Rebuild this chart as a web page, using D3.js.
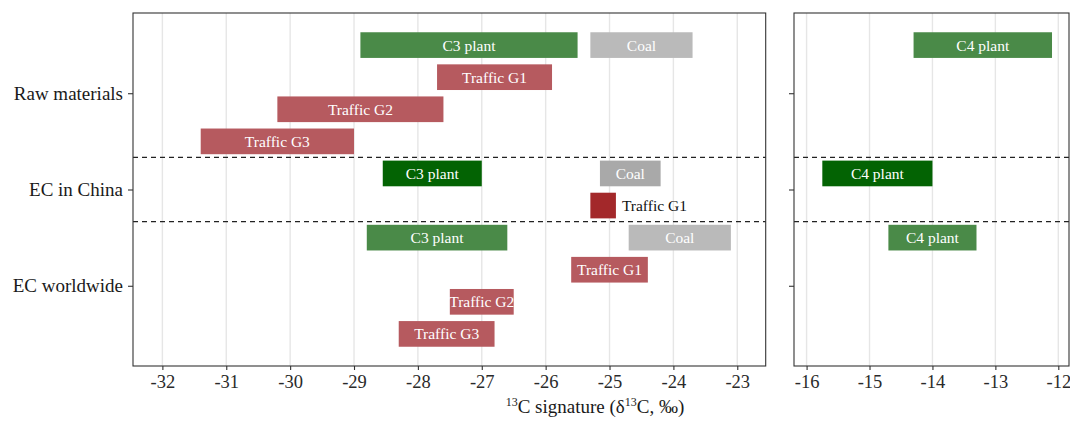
<!DOCTYPE html>
<html>
<head>
<meta charset="utf-8">
<script src="https://cdn.jsdelivr.net/npm/d3@7"></script>
<style>
  body { margin: 0; background: #fff; }
  svg text { font-family: "Liberation Serif", "DejaVu Serif", serif; }
</style>
</head>
<body>
<svg id="chart" width="1070" height="421"></svg>
<script>
// categories on the y axis and the slot (row) each one is centred on
const categories = ["Raw materials", "EC in China", "EC worldwide"];
const categorySlots = [1.5, 4.5, 7.5];
const separatorSlots = [3.5, 5.5];

// bars: label, kind (for colour), row slot, panel, low and high d13C
const barLabels = ["C3 plant", "Coal", "Traffic G1", "Traffic G2", "Traffic G3",
    "C3 plant", "Coal", "Traffic G1",
    "C3 plant", "Coal", "Traffic G1", "Traffic G2", "Traffic G3",
    "C4 plant", "C4 plant", "C4 plant"];
const barKinds = ["plant", "coal", "traffic", "traffic", "traffic",
    "plantChina", "coalChina", "trafficChina",
    "plant", "coal", "traffic", "traffic", "traffic",
    "plant", "plantChina", "plant"];
const barSlots = [0, 0, 1, 2, 3, 4, 4, 5, 6, 6, 7, 8, 9, 0, 4, 6];
const barPanels = [0, 0, 0, 0, 0, 0, 0, 0, 0, 0, 0, 0, 0, 1, 1, 1];
const barLow = [-28.9, -25.3, -27.7, -30.2, -31.4,
    -28.55, -25.15, -25.3,
    -28.8, -24.7, -25.6, -27.5, -28.3,
    -14.3, -15.75, -14.7];
const barHigh = [-25.5, -23.7, -25.9, -27.6, -29.0,
    -27.0, -24.2, -24.9,
    -26.6, -23.1, -24.4, -26.5, -26.8,
    -12.1, -14.0, -13.3];

// tick values of each panel
const leftTicks = [-32, -31, -30, -29, -28, -27, -26, -25, -24, -23];
const rightTicks = [-16, -15, -14, -13, -12];

const colors = {
    plant: "#4a8a48",
    plantChina: "#036303",
    coal: "#bababa",
    coalChina: "#a9a9a9",
    traffic: "#b65a5f",
    trafficChina: "#a3282a"
};

const bars = barLabels.map((label, i) => ({
    label: label,
    kind: barKinds[i],
    slot: barSlots[i],
    panel: barPanels[i],
    lo: barLow[i],
    hi: barHigh[i]
}));

const plotTop = 13, plotBottom = 366;
const panels = [
    {x0: 133, x1: 765.7, domain: [-32.46, -22.555], ticks: leftTicks},
    {x0: 794, x1: 1069, domain: [-16.2, -11.83], ticks: rightTicks}
];

const svg = d3.select("#chart");
const y = d3.scaleLinear().domain([-1, 10]).range([plotTop, plotBottom]);
const half = 0.4;

panels.forEach((p, pi) => {
    const x = d3.scaleLinear().domain(p.domain).range([p.x0, p.x1]);
    const g = svg.append("g");

    // vertical grid
    g.selectAll(".grid")
        .data(p.ticks)
        .enter()
        .append("line")
        .attr("x1", d => x(d))
        .attr("x2", d => x(d))
        .attr("y1", plotTop)
        .attr("y2", plotBottom)
        .attr("stroke", "#e6e6e6")
        .attr("stroke-width", 1.4);

    // separators between the groups
    g.selectAll(".sep")
        .data(separatorSlots)
        .enter()
        .append("line")
        .attr("x1", p.x0)
        .attr("x2", p.x1)
        .attr("y1", d => y(d))
        .attr("y2", d => y(d))
        .attr("stroke", "#222")
        .attr("stroke-width", 1.2)
        .attr("stroke-dasharray", "5,4");

    const pb = bars.filter(d => d.panel === pi);
    g.selectAll(".bar")
        .data(pb)
        .enter()
        .append("rect")
        .attr("x", d => x(d.lo))
        .attr("width", d => x(d.hi) - x(d.lo))
        .attr("y", d => y(d.slot - half))
        .attr("height", d => y(d.slot + half) - y(d.slot - half))
        .attr("fill", d => colors[d.kind]);

    g.selectAll(".lab")
        .data(pb)
        .enter()
        .append("text")
        .attr("x", d => d.kind === "trafficChina" ? x(d.hi) + 6 : (x(d.lo) + x(d.hi)) / 2)
        .attr("y", d => y(d.slot))
        .attr("dy", "0.35em")
        .attr("text-anchor", d => d.kind === "trafficChina" ? "start" : "middle")
        .attr("fill", d => d.kind === "trafficChina" ? "#111" : "#fff")
        .attr("font-size", 15.5)
        .text(d => d.label);

    // panel border
    g.append("rect")
        .attr("x", p.x0)
        .attr("y", plotTop)
        .attr("width", p.x1 - p.x0)
        .attr("height", plotBottom - plotTop)
        .attr("fill", "none")
        .attr("stroke", "#333")
        .attr("stroke-width", 1.1);

    // x axis
    const xa = g.append("g")
        .attr("transform", `translate(0,${plotBottom})`)
        .call(d3.axisBottom(x).tickValues(p.ticks).tickSize(4).tickPadding(5).tickFormat(d => "-" + Math.abs(d)));
    xa.select(".domain").remove();
    xa.selectAll("line").attr("stroke", "#333").attr("stroke-width", 1.1);
    xa.selectAll("text")
        .attr("font-size", 18.5)
        .attr("fill", "#2a2a2a")
        .attr("font-family", "Liberation Serif");

    // y axis ticks (labels only on the left panel)
    const ya = g.append("g")
        .attr("transform", `translate(${p.x0},0)`)
        .call(d3.axisLeft(y).tickValues(categorySlots).tickSize(5).tickPadding(5)
            .tickFormat((d, i) => pi === 0 ? categories[i] : ""));
    ya.select(".domain").remove();
    ya.selectAll("line").attr("stroke", "#333").attr("stroke-width", 1.1);
    ya.selectAll("text")
        .attr("font-size", 19)
        .attr("fill", "#1a1a1a")
        .attr("font-family", "Liberation Serif");
});

// x axis title with superscripts
const title = svg.append("text")
    .attr("x", 595)
    .attr("y", 413)
    .attr("text-anchor", "middle")
    .attr("font-size", 19)
    .attr("fill", "#1a1a1a");
title.append("tspan").attr("font-size", 12).attr("dy", -7).text("13");
title.append("tspan").attr("dy", 7).text("C signature (δ");
title.append("tspan").attr("font-size", 12).attr("dy", -7).text("13");
title.append("tspan").attr("dy", 7).text("C, ‰)");
</script>
</body>
</html>
